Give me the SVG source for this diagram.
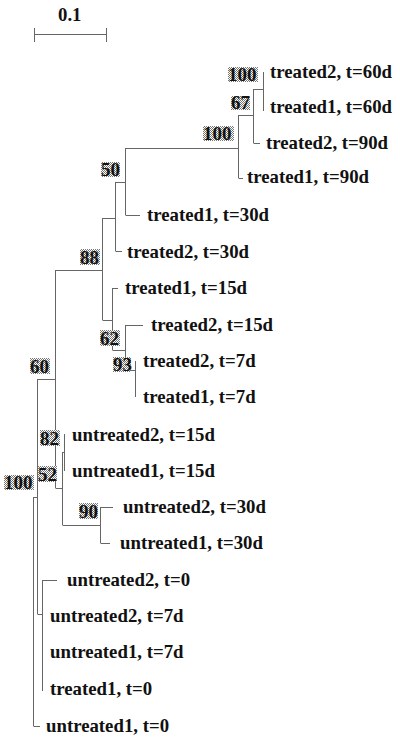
<svg xmlns="http://www.w3.org/2000/svg" width="400" height="748" viewBox="0 0 400 748">
<defs>
<pattern id="dots" width="2" height="2" patternUnits="userSpaceOnUse">
<rect width="2" height="2" fill="#fff"/>
<rect width="1" height="1" fill="#777"/>
<rect x="1" y="1" width="1" height="1" fill="#777"/>
</pattern>
</defs>
<style>
.e{fill:none;stroke:#666;stroke-width:1}
.t{font-family:"Liberation Serif","Times New Roman",serif;font-weight:bold;font-size:18.8px;fill:#111}
.b{fill:url(#dots)}
.bt{font-family:"Liberation Serif","Times New Roman",serif;font-weight:bold;font-size:19px;fill:#111}
</style>
<rect width="400" height="748" fill="#fff"/>
<g id="scale">
<path class="e" d="M34.5 28V42M106.5 28V42M34.5 34.5H106.5"/>
<text class="t" x="58" y="21">0.1</text>
</g>
<g id="connectors">
<!-- internal verticals -->
<path class="e" d="M263.5 72V111M253.5 89V143M238.5 115V178M125.5 148V215M115.5 182V251M102.5 218V320M112.5 288V350M125.5 325V370M135.5 361V397M55.5 270V488M64.5 434V471M62.5 452V525M100.5 507V543M37.5 379V614M42.5 580V691M33.5 497V726"/>
<!-- internal horizontals -->
<path class="e" d="M253.5 89.5H263.5M238.5 115.5H253.5M125.5 148.5H238.5M115.5 182.5H125.5M102.5 218.5H115.5M55.5 270.5H102.5M102.5 320.5H112.5M112.5 350.5H125.5M125.5 370.5H135.5M37.5 379.5H55.5M62.5 452.5H64.5M55.5 488.5H62.5M62.5 525.5H100.5M33.5 497.5H37.5M37.5 614.5H42.5"/>
<!-- leaf branches -->
<path class="e" d="M253.5 143.5H260M238.5 178.5H243M125.5 215.5H140M115.5 251.5H122M112.5 288.5H118M125.5 325.5H143M100.5 507.5H113M100.5 543.5H110M42.5 580.5H57M33.5 726.5H40"/>
</g>
<g id="n100a"><rect class="b" x="228" y="67" width="30" height="15"/><text class="bt" x="228" y="81">100</text></g>
<g id="n67"><rect class="b" x="231" y="96" width="19" height="14"/><text class="bt" x="231" y="109">67</text></g>
<g id="n100b"><rect class="b" x="203" y="126" width="31" height="15"/><text class="bt" x="203" y="140">100</text></g>
<g id="n50"><rect class="b" x="101" y="162" width="19" height="15"/><text class="bt" x="101" y="176">50</text></g>
<g id="n88"><rect class="b" x="80" y="249" width="20" height="16"/><text class="bt" x="80" y="264">88</text></g>
<g id="n62"><rect class="b" x="100" y="330" width="20" height="16"/><text class="bt" x="100" y="345">62</text></g>
<g id="n93"><rect class="b" x="113" y="357" width="18" height="15"/><text class="bt" x="113" y="371">93</text></g>
<g id="n60"><rect class="b" x="30" y="358" width="20" height="16"/><text class="bt" x="30" y="373">60</text></g>
<g id="n82"><rect class="b" x="40" y="430" width="20" height="16"/><text class="bt" x="40" y="445">82</text></g>
<g id="n52"><rect class="b" x="38" y="466" width="19" height="16"/><text class="bt" x="38" y="481">52</text></g>
<g id="n100c"><rect class="b" x="4" y="475" width="30" height="15"/><text class="bt" x="4" y="489">100</text></g>
<g id="n90"><rect class="b" x="79" y="503" width="19" height="16"/><text class="bt" x="79" y="518">90</text></g>
<g id="l1"><text class="t" x="270" y="78">treated2, t=60d</text></g>
<g id="l2"><text class="t" x="270" y="113">treated1, t=60d</text></g>
<g id="l3"><text class="t" x="266" y="149">treated2, t=90d</text></g>
<g id="l4"><text class="t" x="247" y="183">treated1, t=90d</text></g>
<g id="l5"><text class="t" x="147" y="221">treated1, t=30d</text></g>
<g id="l6"><text class="t" x="127" y="258">treated2, t=30d</text></g>
<g id="l7"><text class="t" x="125" y="294">treated1, t=15d</text></g>
<g id="l8"><text class="t" x="151" y="331">treated2, t=15d</text></g>
<g id="l9"><text class="t" x="143" y="367">treated2, t=7d</text></g>
<g id="l10"><text class="t" x="143" y="403">treated1, t=7d</text></g>
<g id="l11"><text class="t" x="72" y="441">untreated2, t=15d</text></g>
<g id="l12"><text class="t" x="72" y="477">untreated1, t=15d</text></g>
<g id="l13"><text class="t" x="123" y="513">untreated2, t=30d</text></g>
<g id="l14"><text class="t" x="120" y="549">untreated1, t=30d</text></g>
<g id="l15"><text class="t" x="67" y="586">untreated2, t=0</text></g>
<g id="l16"><text class="t" x="50" y="622">untreated2, t=7d</text></g>
<g id="l17"><text class="t" x="50" y="658">untreated1, t=7d</text></g>
<g id="l18"><text class="t" x="50" y="695">treated1, t=0</text></g>
<g id="l19"><text class="t" x="46" y="732">untreated1, t=0</text></g>
</svg>
